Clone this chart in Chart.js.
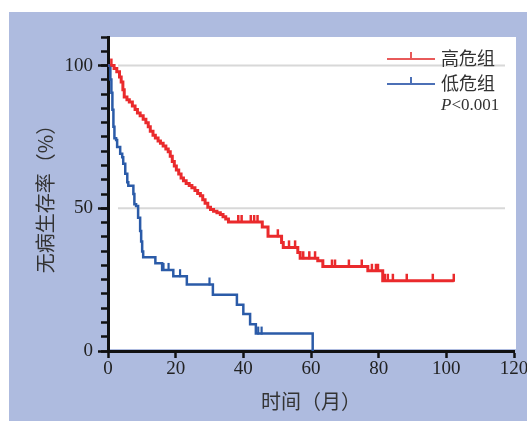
<!DOCTYPE html>
<html>
  <head>
    <meta charset="utf-8">
    <title>无病生存曲线</title>
    <style>
      html, body { margin: 0; padding: 0; background: #fff; }
    </style>
  </head>
  <body>
    <script src="https://cdn.jsdelivr.net/npm/chart.js"></script>

    <canvas id="kmChart" width="527" height="421"></canvas>

    <script>
      // High risk group: event times (months) and survival (%) after each drop
      const highTimes = [0, 1.8, 2.6, 3.4, 3.9, 4.4, 4.8, 5.6, 6.3, 7.2, 8.0, 8.7, 9.5, 10.4, 11.2, 11.9, 12.5, 13.3, 14.0, 14.8,
        15.5, 16.3, 17.1, 17.8, 18.4, 19.0, 19.6, 20.2, 20.9, 21.6, 22.3, 23.1, 24.0, 24.8, 25.7, 26.5, 27.3, 28.0, 28.7, 29.5,
        30.3, 31.2, 32.2, 33.2, 34.0, 34.8, 35.6, 45.6, 47.3, 51.3, 51.8, 56.1, 56.8, 62.0, 63.5, 76.8, 81.2];
      const highSurv = [100, 99.0, 97.8, 96.0, 94.2, 91.5, 89.0, 88.0, 87.2, 85.8, 84.6, 83.4, 82.4, 81.2, 80.0, 78.6, 77.0, 75.6, 74.6, 73.6,
        72.8, 71.8, 70.8, 69.8, 68.2, 66.4, 64.8, 63.4, 62.0, 60.6, 59.6, 58.7, 58.0, 57.2, 56.2, 55.2, 54.4, 53.0, 51.8, 50.4,
        49.6, 49.0, 48.4, 47.8, 47.0, 46.2, 45.2, 43.4, 40.2, 38.0, 36.3, 34.5, 32.5, 31.6, 29.6, 28.1, 24.6];
      // censored observations (months)
      const highCensor = [1.0, 38.5, 39.5, 42.2, 43.2, 44.2, 50.2, 53.5, 55.3, 57.7, 59.5, 61.2, 66.2, 67.1, 71.2, 75.0,
        78.0, 79.2, 79.8, 81.8, 82.7, 84.2, 88.3, 96.0, 102.2];

      // Low risk group
      const lowTimes = [0, 0.7, 1.0, 1.3, 1.6, 1.9, 2.4, 2.7, 3.6, 4.2, 4.5, 5.1, 5.7, 6.0, 7.5, 7.8, 8.3, 8.9, 9.5, 9.8,
        10.1, 10.4, 14.0, 16.0, 19.3, 23.3, 31.0, 38.1, 40.0, 42.0, 43.7, 60.5];
      const lowSurv = [100, 95.1, 90.5, 84.5, 78.6, 74.5, 73.9, 71.5, 69.1, 67.9, 65.6, 62.1, 59.1, 57.9, 55.0, 51.4, 50.8, 46.7, 42.0, 38.4,
        34.9, 32.8, 30.7, 28.4, 26.2, 23.3, 19.7, 16.2, 13.0, 9.4, 6.1, 0];
      const lowCensor = [16.4, 17.9, 21.3, 30.0, 44.4, 45.4];

      const groupNames = ['高危组', '低危组'];
      const pText = '<0.001';
      const yLabelled = [0, 50, 100];
      const gridLevels = [50, 100];

      const RED = '#ea2a2c';
      const BLUE = '#2b5ba8';
      const NUM_FONT = '"Liberation Serif", "Noto Sans CJK SC", serif';
      const CJK_FONT = '"Noto Sans CJK SC", sans-serif';

      // survival value at time t (step function)
      function survAt(times, surv, t) {
        let s = surv[0];
        for (let i = 0; i < times.length; i++) {
          if (times[i] <= t) s = surv[i];
        }
        return s;
      }

      function curve(times, surv, censor) {
        const pts = times.map((t, i) => ({ x: t, y: surv[i] }));
        const lastC = censor.length ? Math.max(...censor) : 0;
        if (lastC > times[times.length - 1]) {
          pts.push({ x: lastC, y: surv[surv.length - 1] });
        }
        return pts;
      }

      // blue panel + white plot area
      const backgroundPlugin = {
        id: 'panel',
        beforeDraw(chart) {
          const { ctx, chartArea } = chart;
          ctx.save();
          ctx.fillStyle = '#ffffff';
          ctx.fillRect(0, 0, chart.width, chart.height);
          ctx.fillStyle = '#aebbdf';
          ctx.fillRect(9, 12, chart.width - 9, chart.height - 12);
          ctx.fillStyle = '#ffffff';
          ctx.fillRect(chartArea.left, chartArea.top, chartArea.right - chartArea.left + 2, chartArea.bottom - chartArea.top - 2);
          ctx.restore();
        },
        beforeDatasetsDraw(chart) {
          const { ctx, chartArea, scales } = chart;
          ctx.save();
          ctx.strokeStyle = '#d8d8d8';
          ctx.lineWidth = 2;
          gridLevels.forEach(v => {
            const y = scales.y.getPixelForValue(v);
            ctx.beginPath();
            ctx.moveTo(chartArea.left + 10, y);
            ctx.lineTo(chartArea.right - 9, y);
            ctx.stroke();
          });
          ctx.restore();
        }
      };

      // censoring ticks and legend
      const censorPlugin = {
        id: 'censor',
        afterDatasetsDraw(chart) {
          const { ctx, scales } = chart;
          const groups = [
            [highTimes, highSurv, highCensor, RED, 2.5],
            [lowTimes, lowSurv, lowCensor, BLUE, 2.2]
          ];
          ctx.save();
          groups.forEach(([times, surv, censor, color, w]) => {
            ctx.strokeStyle = color;
            ctx.lineWidth = w;
            censor.forEach(c => {
              const x = scales.x.getPixelForValue(c);
              const y = scales.y.getPixelForValue(survAt(times, surv, c));
              ctx.beginPath();
              ctx.moveTo(x, y + 1);
              ctx.lineTo(x, y - 7);
              ctx.stroke();
            });
          });
          ctx.restore();
        },
        afterDraw(chart) {
          const { ctx, chartArea } = chart;
          const x0 = chartArea.right - 127;
          const x1 = x0 + 48;
          const tx = x0 + 54;
          const rows = [[chartArea.top + 22, '#e85a5a'], [chartArea.top + 47, '#4c70b6']];
          ctx.save();
          rows.forEach(([y, color], i) => {
            ctx.strokeStyle = color;
            ctx.lineWidth = 2;
            ctx.beginPath();
            ctx.moveTo(x0, y);
            ctx.lineTo(x1, y);
            ctx.moveTo((x0 + x1) / 2, y);
            ctx.lineTo((x0 + x1) / 2, y - 7);
            ctx.stroke();
            ctx.fillStyle = '#333';
            ctx.font = '18px ' + CJK_FONT;
            ctx.textBaseline = 'middle';
            ctx.fillText(groupNames[i], tx, y - 1);
          });
          const py = chartArea.top + 69;
          ctx.font = 'italic 17px ' + NUM_FONT;
          ctx.fillText('P', tx, py);
          const pw = ctx.measureText('P').width;
          ctx.font = '17px ' + NUM_FONT;
          ctx.fillText(pText, tx + pw, py);
          ctx.restore();
        }
      };

      const ctx = document.getElementById('kmChart').getContext('2d');
      const chart = new Chart(ctx, {
        type: 'line',
        data: {
          datasets: [
            {
              label: groupNames[1],
              data: curve(lowTimes, lowSurv, lowCensor),
              borderColor: BLUE,
              borderWidth: 2.5,
              stepped: true,
              pointRadius: 0,
              fill: false
            },
            {
              label: groupNames[0],
              data: curve(highTimes, highSurv, highCensor),
              borderColor: RED,
              borderWidth: 3,
              stepped: true,
              pointRadius: 0,
              fill: false
            }
          ]
        },
        options: {
          responsive: false,
          animation: false,
          devicePixelRatio: 1,
          layout: { padding: { top: 37, right: 13, left: 0, bottom: 0 } },
          plugins: {
            legend: { display: false },
            tooltip: { enabled: false }
          },
          scales: {
            x: {
              type: 'linear',
              min: 0,
              max: 120,
              afterFit(scale) {
                scale.height = 70;
                scale.paddingLeft = 0;
                scale.paddingRight = 0;
              },
              border: { color: '#111', width: 3 },
              grid: { drawOnChartArea: false, tickLength: 7, tickWidth: 2.5, tickColor: '#111' },
              ticks: {
                stepSize: 20,
                padding: 0,
                maxRotation: 0,
                autoSkip: false,
                color: '#222',
                font: { family: NUM_FONT, size: 19 }
              },
              title: {
                display: true,
                text: '时间（月）',
                color: '#333',
                font: { family: CJK_FONT, size: 20 },
                padding: { top: 0, bottom: 8 }
              }
            },
            // major ticks with labels
            y: {
              position: 'left',
              weight: 1,
              min: 0,
              max: 110,
              afterBuildTicks(scale) {
                scale.ticks = scale.ticks.filter(t => yLabelled.includes(t.value));
              },
              afterFit(scale) {
                scale.width = 108;
                scale.paddingTop = 0;
                scale.paddingBottom = 0;
              },
              border: { display: false },
              grid: { drawOnChartArea: false, tickLength: 10, tickWidth: 2.5, tickColor: '#111' },
              ticks: {
                stepSize: 50,
                autoSkip: false,
                padding: 5,
                color: '#222',
                font: { family: NUM_FONT, size: 19 }
              },
              title: {
                display: true,
                text: '无病生存率（%）',
                color: '#333',
                font: { family: CJK_FONT, size: 20 },
                padding: { top: 33, bottom: 0 }
              }
            },
            // minor ticks every 5 and the axis line
            yMinor: {
              position: 'left',
              weight: 0,
              min: 0,
              max: 110,
              afterFit(scale) {
                scale.width = 0;
                scale.paddingTop = 0;
                scale.paddingBottom = 0;
              },
              border: { color: '#111', width: 3 },
              grid: { drawOnChartArea: false, tickLength: 7, tickWidth: 2.5, tickColor: '#111' },
              ticks: { stepSize: 5, autoSkip: false, display: false }
            }
          }
        },
        plugins: [backgroundPlugin, censorPlugin]
      });
    </script>
  </body>
</html>
